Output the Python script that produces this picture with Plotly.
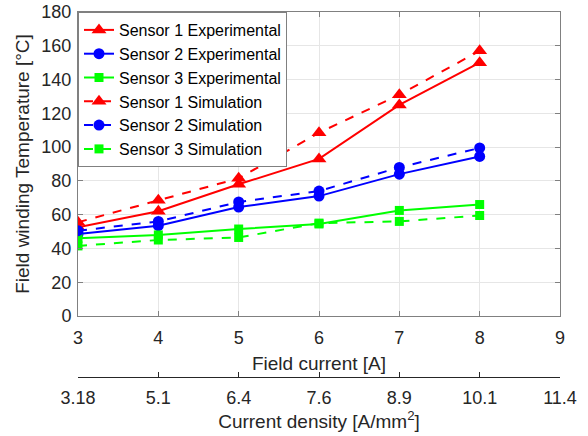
import plotly.graph_objects as go

field_current = [3, 4, 5, 6, 7, 8]
s1_exp = [52.5, 62, 78, 93, 125, 150]
s2_exp = [48.5, 53.5, 64.5, 71, 84, 94.5]
s3_exp = [46, 48, 51.5, 54.5, 62.5, 66]
s1_sim = [55.5, 68.5, 81.5, 108.5, 131, 157]
s2_sim = [50.5, 56, 67.5, 74, 88, 99.5]
s3_sim = [41.5, 45, 46.5, 55, 56, 59.5]

x_ticks = [3, 4, 5, 6, 7, 8, 9]
density_labels = ["3.18", "5.1", "6.4", "7.6", "8.9", "10.1", "11.4"]

RED = "#ff0000"
BLUE = "#0000ff"
GREEN = "#00ff00"

series = [
    ("Sensor 1 Experimental", s1_exp, RED, "solid", "triangle-up", 13),
    ("Sensor 2 Experimental", s2_exp, BLUE, "solid", "circle", 11),
    ("Sensor 3 Experimental", s3_exp, GREEN, "solid", "square", 9),
    ("Sensor 1 Simulation", s1_sim, RED, "dash", "triangle-up", 13),
    ("Sensor 2 Simulation", s2_sim, BLUE, "dash", "circle", 11),
    ("Sensor 3 Simulation", s3_sim, GREEN, "dash", "square", 9),
]

fig = go.Figure()
for name, ys, col, dash, sym, sz in series:
    fig.add_trace(go.Scatter(
        x=field_current, y=ys, name=name, mode="lines+markers",
        line=dict(color=col, width=2, dash=dash),
        marker=dict(symbol=sym, size=sz, color=col),
        xaxis="x", yaxis="y",
    ))

# invisible trace to activate the second x axis
fig.add_trace(go.Scatter(x=[3, 9], y=[None, None], xaxis="x2", yaxis="y",
                         showlegend=False, hoverinfo="skip"))

FONT = "Liberation Sans, Arial, sans-serif"
TXT = "#262626"
# plot area: x 78..560, y 12..316 ; density axis line at y=377
H = 436
mt, mb = 12, 8
ph = H - mt - mb
fig.update_layout(
    width=588, height=H,
    margin=dict(l=78, r=28, t=mt, b=mb),
    paper_bgcolor="white", plot_bgcolor="white",
    font=dict(family=FONT, size=18, color=TXT),
    showlegend=True,
    legend=dict(x=0, y=1, xanchor="left", yanchor="top",
                bgcolor="white", bordercolor="#808080", borderwidth=1,
                font=dict(size=16, color="#000000"),
                tracegroupgap=0, itemwidth=30),
    xaxis=dict(
        range=[3, 9], tickvals=x_ticks, ticktext=[str(v) for v in x_ticks],
        showgrid=True, gridcolor="#e6e6e6", gridwidth=1,
        showline=True, linecolor="#808080", linewidth=1, mirror="ticks",
        ticks="inside", ticklen=5, tickcolor="#808080",
        zeroline=False, anchor="y", ticklabelstandoff=5, automargin=False,
        tickfont=dict(size=18, color=TXT),
        title=dict(text="Field current [A]", font=dict(size=19, color=TXT), standoff=10),
    ),
    xaxis2=dict(
        range=[3, 9], tickvals=x_ticks, ticktext=density_labels,
        overlaying="x", anchor="free", position=(H - mb - 377) / ph, side="bottom",
        showgrid=False, zeroline=False, automargin=False,
        showline=True, linecolor=TXT, linewidth=1,
        ticks="inside", ticklen=5, tickcolor=TXT, ticklabelstandoff=4,
        tickfont=dict(size=18, color=TXT),
        title=dict(text="Current density [A/mm<sup>2</sup>]", font=dict(size=19, color=TXT), standoff=3),
    ),
    yaxis=dict(
        range=[0, 180], dtick=20, domain=[(H - mb - 316) / ph, 1],
        showgrid=True, gridcolor="#e6e6e6", gridwidth=1,
        showline=True, linecolor="#808080", linewidth=1, mirror="ticks",
        ticks="inside", ticklen=5, tickcolor="#808080",
        zeroline=False, automargin=False, ticklabelstandoff=2,
        tickfont=dict(size=18, color=TXT),
        title=dict(text="Field winding Temperature [°C]", font=dict(size=19, color=TXT), standoff=6),
    ),
)

fig.write_html("out.html")
